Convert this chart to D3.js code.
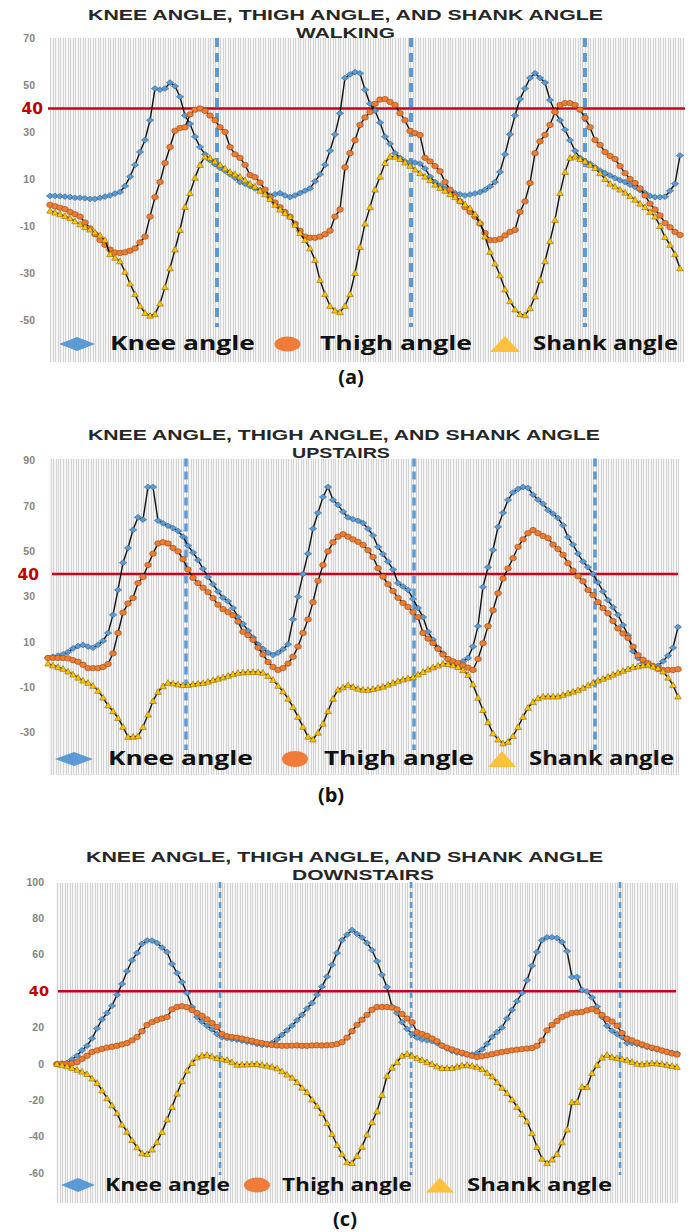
<!DOCTYPE html>
<html><head><meta charset="utf-8">
<script src="https://cdn.jsdelivr.net/npm/d3@7"></script>
<style>body{margin:0;background:#fff}svg{display:block}</style>
</head><body>
<svg id="chart" width="691" height="1232"></svg>
<script>
// ---------- DATA ----------
const seriesNames = ["Knee angle", "Thigh angle", "Shank angle"];
const titleMain = "KNEE ANGLE, THIGH ANGLE, AND SHANK ANGLE";
const activities = ["WALKING", "UPSTAIRS", "DOWNSTAIRS"];
const captions = ["(a)", "(b)", "(c)"];
const thresholdValue = 40;

// (a) Walking
const kneeA = [2.8,2.8,2.7,2.5,2.3,2,2,1.8,1.5,1.5,
 2,2.5,3,3.8,4.5,7,11,16,21.5,26.6,
 35,48.5,48,48.5,51,49.5,45,37,33.5,28,
 23.6,20.5,18,16.3,14.7,13.5,12,10.5,8.7,8,
 7,6,5.3,4,3,3.5,4,3,2.3,3,
 4,5,6,9,12,16,22,29,38,53,
 54.5,55.5,55,48,42,39,34,28,25,21,
 19,17.5,17,17,16.5,14.5,11,8.7,7.2,6,
 5,4,3.5,3,3.4,3.8,4.4,5.4,6.8,8.7,
 13,20.5,29,37,44,48.5,53,55,53,51,
 43.6,38.5,35,31,26.5,22,19,17.5,16.5,15,
 13.6,12.5,11.5,10.4,9.5,8.7,7.6,6.6,5.3,4,
 2.8,2.3,2.3,2.5,5,8,20];
const thighA = [-1,-1.6,-2.2,-2.8,-4,-5,-6,-8.5,-11,-13.5,
 -16,-18,-20,-21.3,-21.5,-21.2,-20.5,-19.5,-17,-14.5,
 -6,2.3,8.7,16.8,23.6,30.5,31.7,32,37.5,39.5,
 40,39,37,35,32,30,23.6,20.5,19,16,
 11.7,10.8,8.5,5.5,2.3,0,-2,-4,-6,-9,
 -12,-14.5,-15,-15,-14.5,-13.5,-12,-6,-3,15,
 21,26.5,33,36.2,38.5,42,43.8,44,42.8,41.5,
 38,35,30.5,29.5,28.7,19,17.5,15.5,13.3,8.7,
 5.5,3,0.5,-2,-4,-6,-9,-13,-16,-16,
 -15.5,-14,-12.5,-11.7,-4,0.5,8.3,21,26,28.8,
 33,38.5,41.5,42.3,42.3,41.5,39.5,36,32,26.6,
 24.5,21.5,19.8,18.5,15.5,12.5,10,8.3,6,3,
 -0.5,-3,-5.5,-8.7,-10.5,-12.5,-13.8];
const shankA = [-3.5,-4.3,-5,-5.8,-6.7,-8,-9.3,-10.5,-11.5,-12.7,
 -14,-16,-22,-23.5,-25,-29.5,-34.5,-39,-44,-47,
 -48.2,-47.5,-43,-36,-28,-20,-11.7,-1.9,4,10.5,
 16,19.5,19,17.5,16,14.5,13,12,11,9.5,
 8,6.8,5,3.5,1.5,-1,-3,-4.5,-6,-9.5,
 -13,-16,-19.5,-24.5,-33,-39,-44,-46,-46.7,-44,
 -39,-30,-19,-9,-2,5.5,11,16.8,19.5,19.5,
 18.5,17,15.6,14,12.5,11,9.5,7.6,6.2,5,
 3.5,2.3,0.7,-0.8,-2.4,-5,-8.5,-14.5,-21,-26,
 -31,-37,-42,-45.5,-47.5,-48,-45,-40,-33,-25,
 -16.5,-7.4,4,13,19,19.5,18.5,17.5,16,14.7,
 12.5,10,8,6.8,5.5,4.2,2.7,1.2,-0.5,-2,
 -4,-6,-10,-14.7,-18,-22,-28];

// (b) Upstairs
const kneeB = [3,3.5,4,4.6,5.6,7.2,8.2,8.7,8,7.5,
 8.8,10.5,14,22,33,45,51.5,59.5,65,64,
 78.4,78.4,63.6,62.4,61.3,60.3,59,56.5,52.5,49.5,
 46.2,42.3,38.7,35.5,32.3,29.6,28,25,21,18,
 15,12,9,7,5.3,4.3,5.3,6.8,9,20,
 30,40,49,60,67,74,78.4,72.7,70.5,67.5,
 65,64.2,63.5,62.5,60,57,52,48.8,45.5,42,
 36,34.5,33,29,25,21,14.5,11,7.5,5,
 2.5,1,0,1.5,3,8,17,34.3,43,50.6,
 60.8,67,72.7,76,77.5,78.4,78,75,72.8,71,
 68.2,66.6,64.7,61.5,56.3,53,49,45.5,43,40,
 36.3,32.3,28.5,25.3,22,17.5,13,6,3,0.7,
 0,-0.8,-0.5,1.5,4,7.5,16.6];
const thighB = [3,3,3,3,2.8,2,1.3,0,-1.5,-1.5,
 -1.5,-1,0.3,5,14,23,27,29.4,36,38.7,
 44,49,53.5,54,53.5,51.5,50,46.5,42,38.3,
 36,34,32,29.4,26.5,24.5,23.2,21.8,19,14.5,
 13,11,7.5,4.5,1.2,-1,-2.3,-1.5,0.5,3.5,
 8,14,20,27.6,37,44,50,54,56.5,57.6,
 56.5,55.3,54.2,52.8,50.5,47.5,42.6,38.8,35.5,32.5,
 29.5,27.2,25.5,23.2,21,14,11.5,9.5,7,4.5,
 2.5,1.5,0.7,-0.2,-1.3,-2.3,2.5,9.5,17,24,
 31.5,38,42.5,47,52,55.3,58,59.4,58,56.8,
 55.8,53,51,48.5,44.8,41.5,39,36.8,33,30.7,
 27.6,25,22.7,19.3,16,13.8,11.8,8,4.2,2.2,
 0.7,-0.5,-1.8,-2.3,-2.3,-2.3,-2];
const shankB = [0.5,-0.3,-1,-1.8,-3,-4.3,-5.7,-7,-8,-9.3,
 -11.5,-14.5,-18,-20.5,-23.5,-27.4,-31.8,-31.8,-31.5,-27.5,
 -22,-16,-12,-9.5,-8,-8.3,-8.7,-9,-8.9,-8.6,
 -8.3,-8.1,-7.5,-6.8,-6.2,-5.6,-4.9,-4.2,-3.6,-3.4,
 -3.3,-3.2,-3.3,-3.5,-5,-6.7,-9.3,-11.8,-15,-18.7,
 -23,-27.4,-31.8,-33,-30,-26,-20.5,-15,-11,-10,
 -9,-9.8,-10.6,-11,-11.1,-10.7,-10.2,-9.7,-8.8,-8,
 -7.2,-6.5,-6,-5.5,-4.3,-3.2,-2.1,-1.2,-0.4,0.4,
 0.3,-0.3,-1,-2.4,-4.5,-8.7,-14.6,-20,-25.4,-30.3,
 -33,-34.7,-34,-31.5,-27.5,-23,-19,-16.5,-14.8,-14,
 -14,-14,-14,-13.3,-12.6,-11.9,-11.2,-10.2,-9.1,-8,
 -7,-6.2,-5.3,-4.4,-3.5,-2.7,-1.9,-1.1,-0.7,-0.3,
 0,-0.8,-1.6,-3,-5.7,-9,-14];

// (c) Downstairs
const kneeC = [0,0.2,0.6,2.5,4.5,7.5,10,14,19.5,24.5,
 28,32,38,44,51,57,61,66,67.8,67.8,
 66.5,64,61.5,55,50,45,39,31.3,25.8,23.3,
 21,19,16.5,14.7,14.2,13.8,13.3,12.8,12.2,11.8,
 11,10.5,10.5,11.5,13.5,16,18.5,21,24,27,
 30.5,33.5,38,42.5,48,54.5,61,68,71,73.6,
 71.5,69.5,66.5,62.6,56.5,49,42.3,31.5,28,23,
 19.3,16.5,14.5,13.5,13,12.5,11.5,10,8.5,7.2,
 6.3,5.7,5.3,5.2,6,8,11,14.8,17.5,20,
 25,29.7,34.5,39,46,54,61.5,68,69.6,69.6,
 69.2,67,62,47.8,47.8,40.7,39.8,36.5,31.5,25.8,
 21,18.3,16.5,14.8,11.5,11.5,11,10.2,9.4,8.6,
 8,7.4,6.8,6.2,5.8];
const thighC = [0,0.1,0.2,0.4,1,2.8,4.5,6.6,7.5,8.3,
 9,9.5,10,10.8,11.5,13,14.8,18,21.4,23,
 24.2,25,25.8,30,31.3,31.8,31.2,29.7,28,26.5,
 24.5,22.5,20.3,16.5,15.3,14.8,14.5,14,13.3,12.8,
 12,11.5,11,10.5,10.2,10,10,10.1,10.2,10,
 10,10.2,10.3,10.2,10.3,10.5,11,12,14.5,18,
 21.5,24.3,27,29.8,31.3,31.3,31.3,31,30,27.5,
 25,23,17.5,16.5,15.5,14,12.5,10.2,9,8,
 7,6.2,5.3,4.5,3.8,4.2,4.8,5.4,6,6.6,
 7,7.5,7.9,8.2,8.5,8.8,10,13,18.5,21.4,
 23.6,25.8,27,28,28.3,28.6,29.5,30.2,29,27,
 24.7,23.3,21,17,14,13,11.8,10.8,9.8,9,
 8.3,7.4,6.6,5.8,5.2];
const shankC = [0,-0.6,-1.2,-2.2,-3.2,-4.2,-5.5,-8,-10.4,-14.5,
 -18.8,-22.7,-27,-33.3,-37.2,-41.8,-45.8,-49,-49.5,-47,
 -43,-37.3,-30.5,-23.6,-16.3,-9.5,-3.6,0.6,3.6,4.6,
 5,4.2,3.2,2.7,2.2,1,-0.4,-0.3,-0.2,-0.1,
 0,-0.5,-1,-1.5,-2.4,-4,-5.8,-7.5,-10,-13,
 -15.5,-19.5,-23,-27,-32.5,-38.5,-44.5,-49.5,-54,-54.4,
 -50.5,-45.5,-38.8,-32,-26,-17,-6.5,-2,1,4.5,
 5.5,4.5,3.2,2.2,1,0,-1.3,-2.2,-2.2,-2.2,
 -1.5,-0.8,-0.5,-1,-1.7,-2.8,-4.8,-6.8,-10,-13,
 -16,-19.5,-23.5,-27.5,-31.5,-38,-45.6,-52,-54.5,-52.5,
 -49.5,-43,-36,-21,-20.9,-12.6,-12.6,-5,-0.5,3.5,
 5,3.8,3.2,2.7,2.1,1.1,0.1,-0.2,0.2,0.5,
 0.3,0,-0.5,-1.1,-1.6];

// y tick labels (40 is shown by the red threshold label)
const ticksA = [70,50,30,10,-10,-30,-50];
const ticksB = [90,70,50,30,10,-10,-30];
const ticksC = [100,80,60,20,0,-20,-40,-60];
// vertical dashed markers (category index positions)
const dashA = [33.4,72.2,107];
const dashB = [27.6,73.2,109.4];
const dashC = [32.6,70.8,112.6];

// ---------- LAYOUT ----------
const panels = [
 {knee:kneeA, thigh:thighA, shank:shankA, ticks:ticksA, dashes:dashA, sub:activities[0], cap:captions[0],
  x0:50, step:5, yDom:[-70,70], yRng:[367,38], bg:[50,683,38,362],
  tickX:35, tickFs:10.5, redLabX:43, redFs:15.5, redLine:[48,685], dashV:[70,-53], dashW:4, dashArr:"9,6",
  t1Y:20, t1X:88, t1L:515, t2Y:37.5, t2X:296, t2L:99, tFs:15.5,
  leg:{y:344, base:350, fs:19, sym:[77,287.5,505], symW:[18,13,15], symH:[7,7.5,8], txt:[[110,145],[320,152],[533,145]]},
  capX:351, capY:384, capFs:20},
 {knee:kneeB, thigh:thighB, shank:shankB, ticks:ticksB, dashes:dashB, sub:activities[1], cap:captions[1],
  x0:48, step:5, yDom:[-50,90], yRng:[778.05,460.7], bg:[49,679,459,775],
  tickX:35, tickFs:10.5, redLabX:39, redFs:15.5, redLine:[52,678], dashV:[91,-37.6], dashW:3.5, dashArr:"8,5",
  t1Y:440, t1X:88, t1L:512, t2Y:457.5, t2X:292, t2L:98, tFs:15.5,
  leg:{y:759, base:765, fs:19, sym:[74,295,502], symW:[19,13,14], symH:[7,8,8], txt:[[108,145],[324,150],[529,145]]},
  capX:331, capY:802, capFs:20},
 {knee:kneeC, thigh:thighC, shank:shankC, ticks:ticksC, dashes:dashC, sub:activities[2], cap:captions[2],
  x0:57, step:5, yDom:[-80,100], yRng:[1209.6,882], bg:[56,677,883,1203],
  tickX:44, tickFs:10.5, redLabX:49, redFs:14.5, redLine:[58,676], dashV:[100,-61], dashW:2.6, dashArr:"6,4",
  t1Y:862, t1X:86, t1L:517, t2Y:879.5, t2X:292, t2L:142, tFs:15,
  leg:{y:1185, base:1191, fs:17, sym:[78,257,440], symW:[17,13,14], symH:[7,7.5,7.5], txt:[[105,125],[282,130],[467,145]]},
  capX:345, capY:1226, capFs:20}
];

const colors = {knee:"#5b9bd5", thigh:"#ed7d31", shank:"#ffc000"};
const strokes = {knee:"#2f5f8c", thigh:"#9a4512", shank:"#8c6a00"};
const svg = d3.select("#chart");

function markerPath(type){
  if(type==="knee") return "M-3.6,0L0,-2.8L3.6,0L0,2.8Z";
  if(type==="shank") return "M0,-3.2L3.3,2.5L-3.3,2.5Z";
  return null;
}

function drawPanel(p){
  const n = p.knee.length;
  const x = d3.scaleLinear().domain([0, n-1]).range([p.x0, p.x0 + p.step*(n-1)]);
  const y = d3.scaleLinear().domain(p.yDom).range(p.yRng);
  const g = svg.append("g");

  // background + dense category gridlines
  g.append("rect").attr("x",p.bg[0]).attr("y",p.bg[2]).attr("width",p.bg[1]-p.bg[0]).attr("height",p.bg[3]-p.bg[2]).attr("fill","#f6f6f6");
  const kMin = Math.ceil(x.invert(p.bg[0])*2), kMax = Math.floor(x.invert(p.bg[1])*2);
  g.append("g").selectAll("line").data(d3.range(kMin,kMax+1)).join("line")
    .attr("x1",k=>Math.round(x(k/2))+0.5).attr("x2",k=>Math.round(x(k/2))+0.5)
    .attr("y1",p.bg[2]).attr("y2",p.bg[3]).attr("stroke","#d3d3d3").attr("stroke-width",1);

  // y tick labels
  g.append("g").selectAll("text").data(p.ticks).join("text")
    .attr("x",p.tickX).attr("y",d=>y(d)).attr("dy","0.35em").attr("text-anchor","end")
    .attr("font-family","Liberation Sans, Arial, sans-serif").attr("font-weight","bold")
    .attr("font-size",p.tickFs).attr("fill","#858585").text(d=>d);

  // threshold line + label
  g.append("line").attr("x1",p.redLine[0]).attr("x2",p.redLine[1])
    .attr("y1",y(thresholdValue)).attr("y2",y(thresholdValue))
    .attr("stroke","#c8001e").attr("stroke-width",2.5);
  g.append("text").attr("x",p.redLabX).attr("y",y(thresholdValue)).attr("dy","0.36em").attr("text-anchor","end")
    .attr("font-family","DejaVu Sans, sans-serif").attr("font-weight","bold").attr("font-size",p.redFs)
    .attr("fill","#c00000").text(thresholdValue);

  // dashed markers
  g.append("g").selectAll("line").data(p.dashes).join("line")
    .attr("x1",d=>x(d)).attr("x2",d=>x(d)).attr("y1",y(p.dashV[0])).attr("y2",y(p.dashV[1]))
    .attr("stroke","#5b9bd5").attr("stroke-width",p.dashW).attr("stroke-dasharray",p.dashArr);

  // series
  const line = d3.line().x((d,i)=>x(i)).y(d=>y(d));
  [["knee",p.knee],["thigh",p.thigh],["shank",p.shank]].forEach(([key,arr])=>{
    const sg = g.append("g");
    sg.append("path").datum(arr).attr("d",line).attr("fill","none").attr("stroke","#111").attr("stroke-width",1.4);
    if(key==="thigh"){
      sg.selectAll("ellipse").data(arr).join("ellipse")
        .attr("cx",(d,i)=>x(i)).attr("cy",d=>y(d)).attr("rx",3.3).attr("ry",2.7)
        .attr("fill",colors[key]).attr("stroke",strokes[key]).attr("stroke-width",0.6);
    } else {
      sg.selectAll("path.m").data(arr).join("path").attr("class","m")
        .attr("transform",(d,i)=>`translate(${x(i)},${y(d)})`).attr("d",markerPath(key))
        .attr("fill",colors[key]).attr("stroke",strokes[key]).attr("stroke-width",0.6);
    }
  });

  // legend
  const L = p.leg;
  const lg = g.append("g");
  const [c0,c1,c2] = L.sym;
  lg.append("path").attr("d",`M${c0-L.symW[0]},${L.y}L${c0},${L.y-L.symH[0]}L${c0+L.symW[0]},${L.y}L${c0},${L.y+L.symH[0]}Z`).attr("fill","#5b9bd5");
  lg.append("ellipse").attr("cx",c1).attr("cy",L.y).attr("rx",L.symW[1]).attr("ry",L.symH[1]).attr("fill","#f07c3a");
  lg.append("path").attr("d",`M${c2},${L.y-L.symH[2]}L${c2+L.symW[2]},${L.y+L.symH[2]}L${c2-L.symW[2]},${L.y+L.symH[2]}Z`).attr("fill","#ffc13b");
  lg.selectAll("text").data(seriesNames).join("text")
    .attr("x",(d,i)=>L.txt[i][0]).attr("y",L.base)
    .attr("textLength",(d,i)=>L.txt[i][1]).attr("lengthAdjust","spacingAndGlyphs")
    .attr("font-family","Open Sans, sans-serif").attr("font-weight","bold").attr("font-size",L.fs)
    .attr("fill","#111").text(d=>d);

  // titles
  g.append("text").attr("x",p.t1X).attr("y",p.t1Y).attr("textLength",p.t1L).attr("lengthAdjust","spacingAndGlyphs")
    .attr("font-family","Liberation Sans, Arial, sans-serif").attr("font-weight","bold").attr("font-size",p.tFs).attr("fill","#262626").text(titleMain);
  g.append("text").attr("x",p.t2X).attr("y",p.t2Y).attr("textLength",p.t2L).attr("lengthAdjust","spacingAndGlyphs")
    .attr("font-family","Liberation Sans, Arial, sans-serif").attr("font-weight","bold").attr("font-size",p.tFs).attr("fill","#262626").text(p.sub);

  // caption
  g.append("text").attr("x",p.capX).attr("y",p.capY).attr("text-anchor","middle")
    .attr("font-family","Open Sans, sans-serif").attr("font-weight","bold").attr("font-size",p.capFs)
    .attr("fill","#111").text(p.cap);
}

panels.forEach(drawPanel);
</script>
</body></html>
